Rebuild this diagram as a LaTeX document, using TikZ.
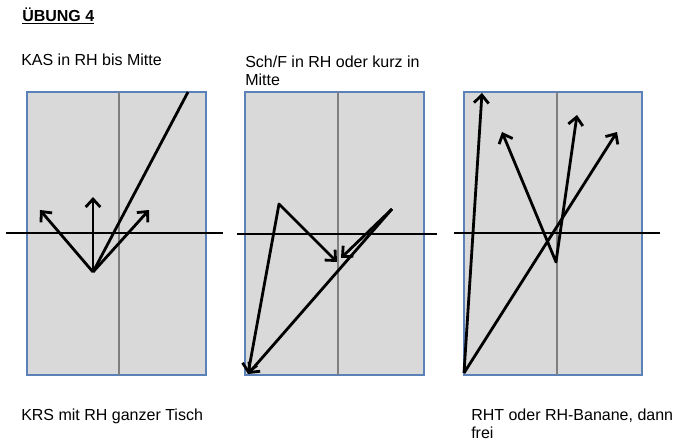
\documentclass[tikz,border=0pt]{standalone}
\usepackage{fontspec}
\setmainfont{Liberation Sans}
\usetikzlibrary{arrows.meta}
\definecolor{cTab}{HTML}{D9D9D9}
\definecolor{cRim}{HTML}{5B82B8}
\definecolor{cMid}{HTML}{7F7F7F}

\begin{document}
\begin{tikzpicture}[x=0.75pt, y=-0.75pt, font=\fontsize{12}{13.5}\selectfont, >={Straight Barb[length=6pt,width=11pt]},
  tab/.style={draw=cRim, line width=1.1pt, fill=cTab},
  mid/.style={draw=cMid, line width=1.2pt},
  net/.style={line width=1.1pt},
  hit/.style={->, line width=2.1pt, line join=round},
  txt/.style={anchor=base west, inner sep=0pt, align=left}]
\useasboundingbox (0,0) rectangle (690,447);
% tables, centre lines and nets
\foreach \l/\r/\m in {27/206/119, 245/424/338, 464/642/557} {
  \draw[tab] (\l,92) rectangle (\r,375);
  \draw[mid] (\m,92) -- (\m,375);
}
\foreach \a/\b/\y in {6/223/233, 237/437/234, 454/660/233} \draw[net] (\a,\y) -- (\b,\y);
% texts (base = last line)
\node[txt, font=\fontsize{12}{13.5}\selectfont\bfseries] (title) at (22,21) {\underline{ÜBUNG 4}};
\node[txt] (kas) at (21,65) {KAS in RH bis Mitte};
\node[txt] (schf) at (245,85) {Sch/F in RH oder kurz in\\Mitte};
\node[txt] (krs) at (21,420) {KRS mit RH ganzer Tisch};
\node[txt] (rht) at (471,438) {RHT oder RH-Banane, dann\\frei};
% table 1
\coordinate (k0) at (93,272);
\coordinate (k1) at (40,210);
\coordinate (k2) at (93,197);
\coordinate (k3) at (149,210);
\coordinate (k4) at (188,92);
\foreach \t in {k1,k2,k3} \draw[hit] (k0) -- (\t);
\draw[line width=2.1pt] (k0) -- (k4);
% table 2
\coordinate (p2) at (279,204);
\coordinate (b2) at (248,374);
\coordinate (m2) at (337,262);
\coordinate (n2) at (341,258);
\coordinate (r2) at (392,209);
\draw[hit, <->] (b2) -- (p2) -- (m2);
\draw[hit] (r2) -- (n2);
\draw[hit] (r2) -- (b2);
% table 3
\coordinate (o3) at (464,373);
\coordinate (a3) at (482,93);
\coordinate (c3) at (617,132);
\coordinate (v3) at (556,262);
\coordinate (l3) at (502,132);
\coordinate (u3) at (577,115);
\draw[hit] (o3) -- (a3);
\draw[hit] (o3) -- (c3);
\draw[hit, <->] (l3) -- (v3) -- (u3);
\end{tikzpicture}
\end{document}
